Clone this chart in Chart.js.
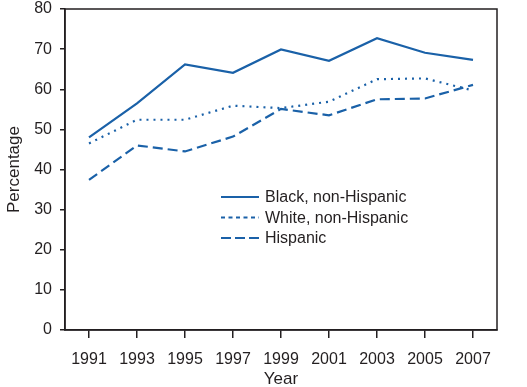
<!DOCTYPE html>
<html>
<head>
<meta charset="utf-8">
<script src="https://cdn.jsdelivr.net/npm/chart.js@4"></script>
<style>
  html, body { margin:0; padding:0; background:#fff; }
  #wrap { width:527px; height:387px; }
</style>
</head>
<body>
<div id="wrap"><canvas id="chart"></canvas></div>
<script>
// Data
const years    = ['1991','1993','1995','1997','1999','2001','2003','2005','2007'];
const black    = [48.0, 56.5, 66.2, 64.1, 69.9, 67.1, 72.7, 69.1, 67.3];
const white    = [46.5, 52.4, 52.4, 55.9, 55.3, 56.9, 62.5, 62.7, 59.7];
const hispanic = [37.4, 46.0, 44.5, 48.2, 55.1, 53.5, 57.5, 57.7, 61.1];
const seriesNames = ['Black, non-Hispanic','White, non-Hispanic','Hispanic'];
const yTicks = [0,10,20,30,40,50,60,70,80];

const BLUE = '#1a61a8';
const INK  = '#231f20';
const dashes = [[], [2,5], [10,5]];
const legendDashes = [[], [4,3.5], [10,4]];

Chart.defaults.font.family = "'Liberation Sans', Arial, sans-serif";
Chart.defaults.color = INK;

// frame box + legend drawn inside plot area
const framePlugin = {
  id: 'frame',
  afterDraw(chart) {
    const { ctx, chartArea: a } = chart;
    ctx.save();
    ctx.strokeStyle = INK;
    ctx.lineWidth = 1.5;
    ctx.strokeRect(a.left, a.top, a.right - a.left, a.bottom - a.top);

    // legend
    ctx.lineWidth = 2.2;
    ctx.strokeStyle = BLUE;
    ctx.font = "16px 'Liberation Sans', Arial, sans-serif";
    ctx.fillStyle = INK;
    ctx.textBaseline = 'middle';
    const x0 = a.left + 156, x1 = a.left + 194, tx = a.left + 200;
    seriesNames.forEach((name, i) => {
      const y = a.top + 188 + i * 20.5;
      ctx.setLineDash(legendDashes[i]);
      ctx.beginPath(); ctx.moveTo(x0, y); ctx.lineTo(x1, y); ctx.stroke();
      ctx.fillText(name, tx, y + 1);
    });
    ctx.restore();
  }
};

new Chart(document.getElementById('chart'), {
  type: 'line',
  data: {
    labels: years,
    datasets: [black, white, hispanic].map((d, i) => ({
      label: seriesNames[i],
      data: d,
      borderColor: BLUE,
      borderWidth: 2.2,
      borderDash: dashes[i],
      pointRadius: 0,
      tension: 0,
      fill: false
    }))
  },
  options: {
    responsive: true,
    maintainAspectRatio: false,
    animation: false,
    layout: { padding: { top: 9, right: 30, left: 0, bottom: 0 } },
    plugins: { legend: { display: false }, tooltip: { enabled: false } },
    scales: {
      x: {
        offset: true,
        grid: { display: true, drawOnChartArea: false, tickLength: 8, color: INK, lineWidth: 1.5, offset: false },
        border: { display: true, color: INK, width: 1.5 },
        ticks: { font: { size: 16 }, color: INK, padding: 12, maxRotation: 0, autoSkip: false },
        title: { display: true, text: 'Year', font: { size: 17 }, color: INK, padding: { top: 0, bottom: -2.5 } },
        afterFit: s => { s.height = 57; s.paddingLeft = 0; s.paddingRight = 0; }
      },
      y: {
        min: 0, max: 80,
        afterBuildTicks: s => { s.ticks = yTicks.map(v => ({ value: v })); },
        grid: { display: true, drawOnChartArea: false, tickLength: 5, color: INK, lineWidth: 1.5 },
        border: { display: true, color: INK, width: 1.5 },
        ticks: { font: { size: 16 }, color: INK, padding: 8 },
        title: { display: true, text: 'Percentage', font: { size: 17 }, color: INK, padding: { top: 4, bottom: 0 } },
        afterFit: s => { s.width = 65; s.paddingTop = 0; s.paddingBottom = 0; }
      }
    }
  },
  plugins: [framePlugin]
});
</script>
</body>
</html>
